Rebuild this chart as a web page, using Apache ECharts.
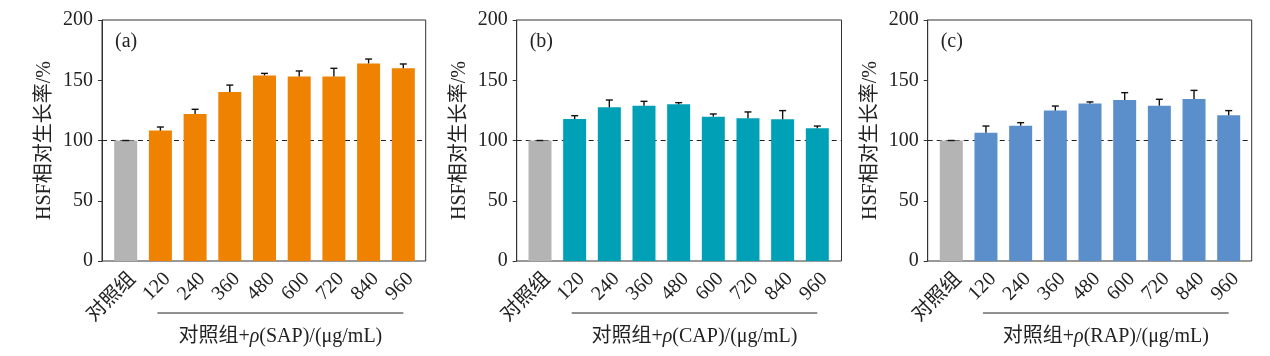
<!DOCTYPE html>
<html><head><meta charset="utf-8">
<script src="https://cdn.jsdelivr.net/npm/echarts@6/dist/echarts.min.js"></script>
<style>html,body{margin:0;padding:0;background:#fff}#c{width:1270px;height:356px}</style>
</head><body><div id="c"></div>
<script>
const categories = ['对照组','120','240','360','480','600','720','840','960'];
const yTicks = [0, 50, 100, 150, 200];
const refLine = 100;
const panelLabels = ['(a)','(b)','(c)'];
const agents = ['SAP','CAP','RAP'];
const valuesSAP = [100, 108.2, 122, 140.2, 154, 153.2, 153.2, 164, 160];
const errorsSAP = [0, 3, 3.9, 5.8, 1.7, 4.5, 6.7, 3.6, 3.5];
const valuesCAP = [100, 117.8, 127.5, 128.9, 130, 119.8, 118.4, 117.6, 110.1];
const errorsCAP = [0, 2.8, 6.1, 3.6, 1.4, 2.2, 5.3, 7.2, 1.9];
const valuesRAP = [100, 106.5, 112.3, 124.8, 130.8, 133.6, 128.9, 134.4, 120.9];
const errorsRAP = [0, 5.5, 2.5, 3.8, 1.2, 6.1, 5.3, 7.2, 3.9];

const valueSets = [valuesSAP, valuesCAP, valuesRAP];
const errorSets = [errorsSAP, errorsCAP, errorsRAP];
const colors = ['#EF8200', '#00A0B7', '#5B8FCB'];
const ctrlColor = '#B4B4B4';
const axisColor = '#333';
const FONT = '"Liberation Serif", "Noto Sans CJK SC", serif';

// layout (pixels)
const frames = [{l:102, r:425.7}, {l:516.7, r:841.5}, {l:927.7, r:1251.7}];
const barCenters = [{c0:125.7, c8:403.3}, {c0:540, c8:817.3}, {c0:951.3, c8:1228.7}];
const TOP = 20, BOTTOM = 261;

const chart = echarts.init(document.getElementById('c'), null, {renderer:'canvas'});
const grid = [], xAxis = [], yAxis = [], series = [];
for (let p = 0; p < 3; p++) {
  const f = frames[p];
  grid.push({left: f.l, top: TOP, width: f.r - f.l, height: BOTTOM - TOP, show: true, borderColor: axisColor, borderWidth: 1, backgroundColor: 'transparent'});
  const band = (barCenters[p].c8 - barCenters[p].c0) / 8;
  grid.push({left: barCenters[p].c0 - band/2, top: TOP, width: band*9, height: BOTTOM - TOP});
  const gf = 2*p, gb = 2*p+1;
  xAxis.push({gridIndex: gf, type: 'value', min: 0, max: 1, show: false});
  yAxis.push({gridIndex: gf, type: 'value', min: yTicks[0], max: yTicks[yTicks.length-1], interval: yTicks[1]-yTicks[0],
    axisLine: {show: true, lineStyle: {color: axisColor, width: 1}},
    axisTick: {show: true, inside: false, length: 4, lineStyle: {color: axisColor}},
    axisLabel: {show: true, fontFamily: FONT, fontSize: 20, color: '#222', margin: 9},
    splitLine: {show: false},
    name: 'HSF相对生长率/%', nameLocation: 'middle', nameGap: 47, nameRotate: 90,
    nameTextStyle: {fontFamily: FONT, fontSize: 20, color: '#222'}});
  xAxis.push({gridIndex: gb, type: 'category', data: categories, boundaryGap: true,
    axisLine: {show: false},
    axisTick: {show: true, inside: true, length: 5, alignWithLabel: true, lineStyle: {color: axisColor}},
    axisLabel: {rotate: 45, interval: 0, fontFamily: FONT, fontSize: 20, color: '#222', margin: 8, verticalAlign: 'top'}});
  yAxis.push({gridIndex: gb, type: 'value', min: 0, max: 200, show: false});
  series.push({type: 'line', xAxisIndex: gf, yAxisIndex: gf, data: [[0, refLine], [1, refLine]], symbol: 'none',
    lineStyle: {color: '#222', width: 1, type: [5, 4]}, z: 1, silent: true});
  series.push({type: 'bar', xAxisIndex: gb, yAxisIndex: gb, barWidth: 23, z: 2,
    data: valueSets[p].map((v, i) => ({value: v, itemStyle: {color: i === 0 ? ctrlColor : colors[p]}}))});
  series.push({type: 'custom', xAxisIndex: gb, yAxisIndex: gb, z: 3,
    data: valueSets[p].map((v, i) => [i, v, errorSets[p][i]]),
    renderItem: function (params, api) {
      const i = api.value(0), v = api.value(1), e = api.value(2);
      const base = api.coord([i, v]);
      const top = api.coord([i, v + e]);
      const cap = 3.5;
      const st = {stroke: '#111', lineWidth: 1.4};
      return {type: 'group', children: [
        {type: 'line', shape: {x1: base[0], y1: base[1], x2: top[0], y2: top[1]}, style: st},
        {type: 'line', shape: {x1: top[0]-cap, y1: top[1], x2: top[0]+cap, y2: top[1]}, style: st}
      ]};
    }});
}
chart.setOption({animation: false, grid, xAxis, yAxis, series});

const graphics = [];
for (let p = 0; p < 3; p++) {
  const gb = 2*p+1;
  const x1 = chart.convertToPixel({xAxisIndex: gb}, categories[1]) - 3;
  const x2 = chart.convertToPixel({xAxisIndex: gb}, categories[categories.length-1]);
  graphics.push({type: 'line', shape: {x1, y1: 313, x2, y2: 313}, style: {stroke: '#222', lineWidth: 1}});
  graphics.push({type: 'text', x: (x1 + x2) / 2, y: 337, style: {
    text: '{n|对照组+}{i|ρ}{n|(' + agents[p] + ')/(μg/mL)}',
    align: 'center', verticalAlign: 'middle',
    rich: {n: {fontFamily: FONT, fontSize: 20, fill: '#222'}, i: {fontFamily: FONT, fontSize: 20, fontStyle: 'italic', fill: '#222'}}
  }});
  graphics.push({type: 'text', x: frames[p].l + 13, y: 42, style: {text: panelLabels[p], fontFamily: FONT, fontSize: 20, fill: '#222', verticalAlign: 'middle'}});
}
chart.setOption({graphic: graphics});
</script></body></html>
